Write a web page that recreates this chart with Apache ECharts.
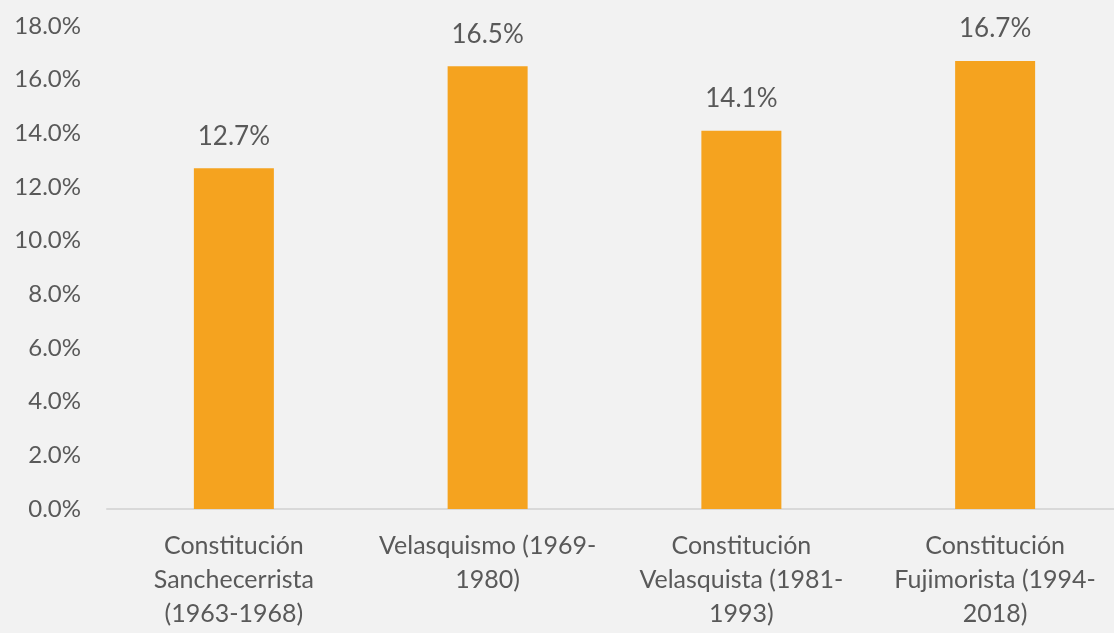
<!DOCTYPE html>
<html>
<head>
<meta charset="utf-8">
<script src="https://cdn.jsdelivr.net/npm/echarts@6/dist/echarts.min.js"></script>
<style>
  html, body { margin: 0; padding: 0; background: #f2f2f2; }
  #chart { width: 1114px; height: 633px; }
</style>
</head>
<body>
<div id="chart"></div>
<script>
// Categories (line breaks as printed under each bar)
const categories = [
  'Constitución\nSanchecerrista\n(1963-1968)',
  'Velasquismo (1969-\n1980)',
  'Constitución\nVelasquista (1981-\n1993)',
  'Constitución\nFujimorista (1994-\n2018)'
];
// Share values, in percent
const values = [12.7, 16.5, 14.1, 16.7];
// Value axis range and step, in percent
const yMin = 0;
const yMax = 18;
const yStep = 2;

const FONT = 'Lato';
const TEXT = '#595959';

const chart = echarts.init(document.getElementById('chart'), null, { renderer: 'canvas' });
chart.setOption({
  backgroundColor: '#f2f2f2',
  animation: false,
  // plot area runs slightly past the right edge of the canvas
  grid: {
    left: 107, top: 26, width: 1015, height: 483,
    containLabel: false, outerBoundsMode: 'none'
  },
  xAxis: {
    type: 'category',
    data: categories,
    axisLine: { show: true, lineStyle: { color: '#d9d9d9', width: 2 } },
    axisTick: { show: false },
    axisLabel: {
      color: TEXT, fontFamily: FONT, fontSize: 25, lineHeight: 34,
      margin: 20, interval: 0
    }
  },
  yAxis: {
    type: 'value',
    min: yMin, max: yMax, interval: yStep,
    axisLine: { show: false },
    axisTick: { show: false },
    splitLine: { show: false },
    axisLabel: {
      color: TEXT, fontFamily: FONT, fontSize: 24, margin: 26,
      formatter: v => v.toFixed(1) + '%'
    }
  },
  series: [{
    type: 'bar',
    data: values,
    barWidth: 80,
    itemStyle: { color: '#F5A31F' },
    label: {
      show: true, position: 'top', distance: 19,
      color: TEXT, fontFamily: FONT, fontSize: 26,
      formatter: p => p.value.toFixed(1) + '%'
    }
  }]
});
</script>
</body>
</html>
